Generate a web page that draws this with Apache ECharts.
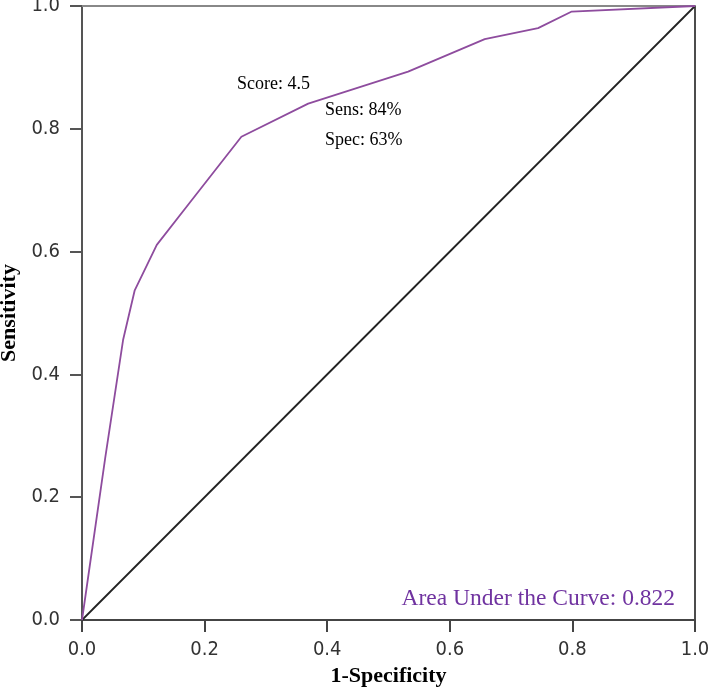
<!DOCTYPE html>
<html>
<head>
<meta charset="utf-8">
<script src="https://cdn.jsdelivr.net/npm/echarts@6/dist/echarts.min.js"></script>
<style>
  html, body { margin: 0; padding: 0; background: #fff; }
  #chart { width: 709px; height: 688px; }
</style>
</head>
<body>
<div id="chart"></div>
<script>
// ROC 曲线数据 (1-特异度, 灵敏度)
const fpr = [0, 0.038, 0.067, 0.086, 0.122, 0.176, 0.26, 0.369, 0.532, 0.657, 0.744, 0.799, 1]
const tpr = [0, 0.265, 0.456, 0.537, 0.611, 0.68, 0.787, 0.841, 0.893, 0.946, 0.964, 0.991, 1]
// 参考线
const refX = [0, 1]
const refY = [0, 1]
const tickLabels = ['0.0', '0.2', '0.4', '0.6', '0.8', '1.0']
const notes = ['Score: 4.5', 'Sens: 84%', 'Spec: 63%']
const aucText = 'Area Under the Curve: 0.822'

const chart = echarts.init(document.getElementById('chart'))

// 刻度标签用窄体
const tickFont = {
  fontFamily: '"DejaVu Sans", sans-serif',
  fontWeight: 'condensed',
  fontSize: 20,
  color: '#333'
}
const nameFont = {
  fontFamily: '"Liberation Serif", "Times New Roman", serif',
  fontWeight: 'bold',
  fontSize: 22,
  color: '#000'
}

const valueAxis = (pos, extra) => Object.assign({
  type: 'value',
  position: pos,
  min: 0,
  max: 1,
  interval: 0.2,
  splitLine: { show: false }
}, extra)

const option = {
  animation: false,
  grid: { left: 82, right: 14, top: 6, bottom: 68, containLabel: false, outerBoundsMode: 'none' },
  xAxis: [
    valueAxis('bottom', {
      name: '1-Specificity',
      nameLocation: 'middle',
      nameGap: 45,
      nameTextStyle: nameFont,
      axisLine: { onZero: false, lineStyle: { color: '#444', width: 2 } },
      axisTick: { inside: false, length: 12, lineStyle: { color: '#444', width: 2 } },
      axisLabel: Object.assign({ margin: 20, formatter: v => tickLabels[Math.round(v * 5)] }, tickFont)
    }),
    valueAxis('top', {
      axisLine: { show: true, onZero: false, lineStyle: { color: '#888', width: 2 } },
      axisTick: { show: false },
      axisLabel: { show: false }
    })
  ],
  yAxis: [
    valueAxis('left', {
      name: 'Sensitivity',
      nameLocation: 'middle',
      nameGap: 62,
      nameTextStyle: nameFont,
      axisLine: { onZero: false, lineStyle: { color: '#555', width: 2 } },
      axisTick: { inside: false, length: 12, lineStyle: { color: '#555', width: 2 } },
      axisLabel: Object.assign({ margin: 22, formatter: v => tickLabels[Math.round(v * 5)] }, tickFont)
    }),
    valueAxis('right', {
      axisLine: { show: true, onZero: false, lineStyle: { color: '#111', width: 1.5 } },
      axisTick: { show: false },
      axisLabel: { show: false }
    })
  ],
  series: [
    {
      name: 'reference',
      type: 'line',
      data: refX.map((x, i) => [x, refY[i]]),
      symbol: 'none',
      lineStyle: { color: '#222', width: 1.8 }
    },
    {
      name: 'ROC',
      type: 'line',
      data: fpr.map((x, i) => [x, tpr[i]]),
      symbol: 'none',
      lineStyle: { color: '#8E4C9E', width: 1.8 }
    }
  ],
  graphic: [
    { type: 'text', x: 237, y: 84, style: { text: notes[0], font: '18px "Liberation Serif", serif', fill: '#000', textVerticalAlign: 'middle' } },
    { type: 'text', x: 325, y: 110, style: { text: notes[1], font: '18px "Liberation Serif", serif', fill: '#000', textVerticalAlign: 'middle' } },
    { type: 'text', x: 325, y: 140, style: { text: notes[2], font: '18px "Liberation Serif", serif', fill: '#000', textVerticalAlign: 'middle' } },
    { type: 'text', x: 675, y: 599, style: { text: aucText, font: '23.5px "Liberation Serif", serif', fill: '#7033A0', textAlign: 'right', textVerticalAlign: 'middle' } }
  ]
}
chart.setOption(option)
</script>
</body>
</html>
